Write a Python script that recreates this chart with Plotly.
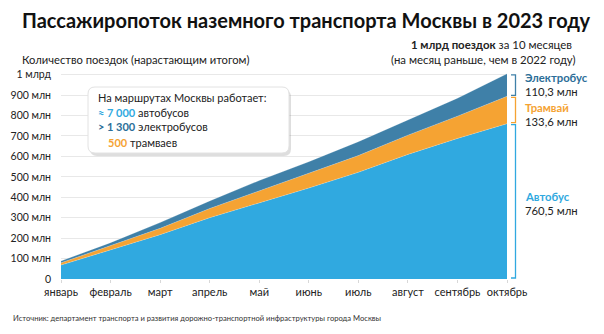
import plotly.graph_objects as go

months = ["январь", "февраль", "март", "апрель", "май", "июнь", "июль", "август", "сентябрь", "октябрь"]
bus = [68, 143, 217, 300, 372, 445, 522, 610, 688, 760.5]
tram = [11, 20, 31, 45, 60, 71, 82, 94, 109, 133.6]
ebus = [9, 15, 28, 37, 50, 58, 68, 76, 88, 110.3]
ytick_vals = [0, 100, 200, 300, 400, 500, 600, 700, 800, 900, 1000]
ytick_text = ["0", "100 млн", "200 млн", "300 млн", "400 млн", "500 млн", "600 млн",
              "700 млн", "800 млн", "900 млн", "1 млрд"]

C_BUS = "#30a9e0"
C_TRAM = "#f5a333"
C_EBUS = "#3f80a8"
C_EBUS_TXT = "#2c6e98"
FONT = "Lato"
W, H = 604, 334

x_idx = list(range(len(months)))
fig = go.Figure()
for name, vals, col in [("Автобус", bus, C_BUS), ("Трамвай", tram, C_TRAM), ("Электробус", ebus, C_EBUS)]:
    fig.add_trace(go.Scatter(x=x_idx, y=vals, name=name, stackgroup="one", mode="lines",
                             line=dict(width=0.6, color="rgba(255,255,255,0.35)"),
                             fillcolor=col, hoverinfo="skip"))

x0p, x1p = 61, 507
y0p, y1p = 279, 74.7
ymax = 1012
ytop_px = y0p - (y0p - y1p) * ymax / 1000

fig.update_layout(
    width=W, height=H, margin=dict(l=0, r=0, t=0, b=0, autoexpand=False),
    paper_bgcolor="white", plot_bgcolor="white", showlegend=False,
    font=dict(family=FONT, color="#222"),
    xaxis=dict(domain=[x0p / W, x1p / W], range=[0, 9], tickvals=x_idx, ticktext=months,
               showgrid=False, zeroline=False, showline=False, ticks="outside", ticklen=3,
               tickcolor="#d8d8d8", tickfont=dict(size=11, color="#222"), fixedrange=True,
               automargin=False),
    yaxis=dict(domain=[(H - y0p) / H, (H - ytop_px) / H], range=[0, ymax],
               tickvals=ytick_vals, ticktext=ytick_text, showgrid=True, gridcolor="#e8e8e8",
               gridwidth=1, zeroline=False, showline=False, ticks="", ticklabelstandoff=9,
               tickfont=dict(size=10.5, color="#222"), fixedrange=True, automargin=False),
)

def ann(text, x, y, size, color="#222", xanchor="left", yanchor="middle", align="left"):
    fig.add_annotation(text=text, x=x / W, y=1 - y / H, xref="paper", yref="paper",
                       showarrow=False, xanchor=xanchor, yanchor=yanchor, align=align,
                       font=dict(family=FONT, size=size, color=color))

ann("<b>Пассажиропоток наземного транспорта Москвы в 2023 году</b>", 20, 20, 20, "#111")
ann("Количество поездок (нарастающим итогом)", 20, 60, 11.2)
ann("<b>1 млрд поездок</b> за 10 месяцев", 574, 44, 11.4, xanchor="right")
ann("(на месяц раньше, чем в 2022 году)", 578, 60, 11.4, xanchor="right")
ann("Источник: департамент транспорта и развития дорожно-транспортной инфраструктуры города Москвы",
    11, 318, 7.6, "#333")

def px_path(x0, y0, x1, y1, r):
    def X(v): return v / W
    def Y(v): return 1 - v / H
    rx, ry = r / W, r / H
    a, b, c, d = X(x0), Y(y0), X(x1), Y(y1)
    return (f"M{a+rx},{b} L{c-rx},{b} Q{c},{b} {c},{b-ry} L{c},{d+ry} Q{c},{d} {c-rx},{d} "
            f"L{a+rx},{d} Q{a},{d} {a},{d+ry} L{a},{b-ry} Q{a},{b} {a+rx},{b} Z")

bx0, by0, bx1, by1 = 88, 87, 289, 153
fig.add_shape(type="path", path=px_path(bx0 + 2, by0 + 3, bx1 + 2, by1 + 3, 7), xref="paper", yref="paper",
              fillcolor="rgba(0,0,0,0.13)", line=dict(width=0), layer="above")
fig.add_shape(type="path", path=px_path(bx0, by0, bx1, by1, 7), xref="paper", yref="paper",
              fillcolor="white", line=dict(width=1, color="#e2e2e2"), layer="above")

ann("На маршрутах Москвы работает:", 96, 97, 11)
ann(f"<b><span style='color:{C_BUS}'>≈ 7 000</span></b> автобусов", 96, 112, 11)
ann(f"<b><span style='color:{C_EBUS_TXT}'>&gt; 1 300</span></b> электробусов", 96, 127, 11)
ann(f"<b><span style='color:{C_TRAM}'>500</span></b> трамваев", 106, 142, 11)

def bracket(yv0, yv1, col):
    py0 = y0p - (y0p - y1p) * yv0 / 1000
    py1 = y0p - (y0p - y1p) * yv1 / 1000
    a, b = py1 + 1, py0 - 1
    xl, xr = 511, 515.5
    path = (f"M{xl/W},{1-a/H} L{xr/W},{1-a/H} L{xr/W},{1-b/H} L{xl/W},{1-b/H}")
    fig.add_shape(type="path", path=path, xref="paper", yref="paper",
                  line=dict(color=col, width=1.3), layer="above")

tot_bt = bus[-1]
tot_tr = bus[-1] + tram[-1]
tot_all = tot_tr + ebus[-1]
bracket(tot_tr, tot_all, C_EBUS)
bracket(tot_bt, tot_tr, C_TRAM)
bracket(0, tot_bt, C_BUS)

ann("<b>Электробус</b>", 523, 78, 11.3, C_EBUS_TXT)
ann(f"{str(ebus[-1]).replace('.', ',')} млн", 523, 92, 11.3)
ann("<b>Трамвай</b>", 523, 107, 11.3, C_TRAM)
ann(f"{str(tram[-1]).replace('.', ',')} млн", 523, 121, 11.3)
ann("<b>Автобус</b>", 523, 196, 11.3, C_BUS)
ann(f"{str(bus[-1]).replace('.', ',')} млн", 523, 210, 11.3)

fig.write_html("out.html")
